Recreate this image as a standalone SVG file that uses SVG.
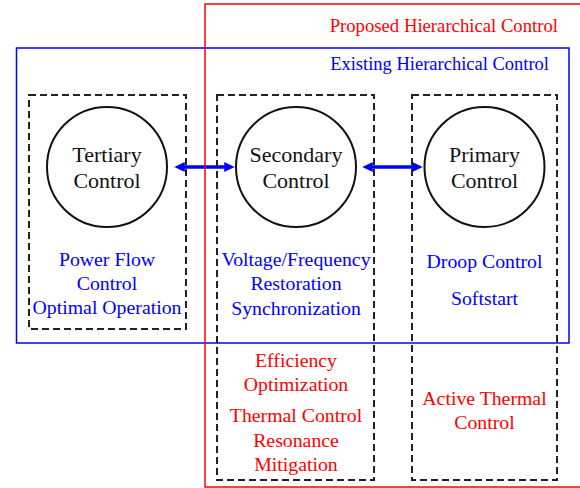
<svg xmlns="http://www.w3.org/2000/svg" width="580" height="488" viewBox="0 0 580 488">
  <defs>
    <style>
      text { font-family: "Liberation Serif", "Times New Roman", serif; text-anchor: middle; }
      .node-text { font-size: 22px; fill: #111; }
      .blue { font-size: 19.8px; fill: #0000ff; }
      .red { font-size: 19.8px; fill: #ff0000; }
      .title-red { font-size: 18.7px; fill: #ff0000; text-anchor: end; }
      .title-blue { font-size: 18.5px; fill: #0000ff; text-anchor: end; }
      .circle { fill: #ffffff; stroke: #111; stroke-width: 2; }
      .dash { fill: none; stroke: #222; stroke-width: 2; stroke-dasharray: 7 4; }
      .arrow { stroke: #0000ff; stroke-width: 3.5; fill: none; }
    </style>
    <marker id="ah" markerWidth="4" markerHeight="4" refX="0.5" refY="2" orient="auto-start-reverse" markerUnits="strokeWidth">
      <path d="M0,0.6 L3,2 L0,3.4 Z" fill="#0000ff"/>
    </marker>
  </defs>
  <rect width="580" height="488" fill="#ffffff"/>

  <g id="connectors">
    <line class="arrow" x1="183" y1="167" x2="226" y2="167" marker-start="url(#ah)" marker-end="url(#ah)"/>
    <line class="arrow" x1="371" y1="167" x2="414" y2="167" marker-start="url(#ah)" marker-end="url(#ah)"/>
  </g>

  <g id="existing-hierarchical-control">
    <rect x="16.5" y="48" width="552.5" height="295" fill="none" stroke="#0000ff" stroke-width="1.5"/>
    <text class="title-blue" x="549" y="70">Existing Hierarchical Control</text>
  </g>

  <g id="proposed-hierarchical-control">
    <rect x="205" y="4" width="400" height="483" fill="none" stroke="#ff0000" stroke-width="1.5"/>
    <text class="title-red" x="558" y="32">Proposed Hierarchical Control</text>
  </g>

  <g id="tertiary">
    <rect class="dash" x="29" y="95" width="157" height="234"/>
    <circle class="circle" cx="107" cy="167" r="60"/>
    <text class="node-text" x="107" y="162">Tertiary</text>
    <text class="node-text" x="107" y="188">Control</text>
    <text class="blue" x="107" y="266">Power Flow</text>
    <text class="blue" x="107" y="290">Control</text>
    <text class="blue" x="107" y="314">Optimal Operation</text>
  </g>

  <g id="secondary">
    <rect class="dash" x="217" y="95" width="157" height="385"/>
    <circle class="circle" cx="296" cy="167" r="60"/>
    <text class="node-text" x="296" y="162">Secondary</text>
    <text class="node-text" x="296" y="188">Control</text>
    <text class="blue" x="296" y="266">Voltage/Frequency</text>
    <text class="blue" x="296" y="290">Restoration</text>
    <text class="blue" x="296" y="315">Synchronization</text>
    <text class="red" x="296" y="367">Efficiency</text>
    <text class="red" x="296" y="391">Optimization</text>
    <text class="red" x="296" y="422">Thermal Control</text>
    <text class="red" x="296" y="447">Resonance</text>
    <text class="red" x="296" y="471">Mitigation</text>
  </g>

  <g id="primary">
    <rect class="dash" x="412" y="95" width="145" height="385"/>
    <circle class="circle" cx="484.5" cy="167" r="60"/>
    <text class="node-text" x="484.5" y="162">Primary</text>
    <text class="node-text" x="484.5" y="188">Control</text>
    <text class="blue" x="484.5" y="268">Droop Control</text>
    <text class="blue" x="484.5" y="305">Softstart</text>
    <text class="red" x="484.5" y="405">Active Thermal</text>
    <text class="red" x="484.5" y="429">Control</text>
  </g>
</svg>
